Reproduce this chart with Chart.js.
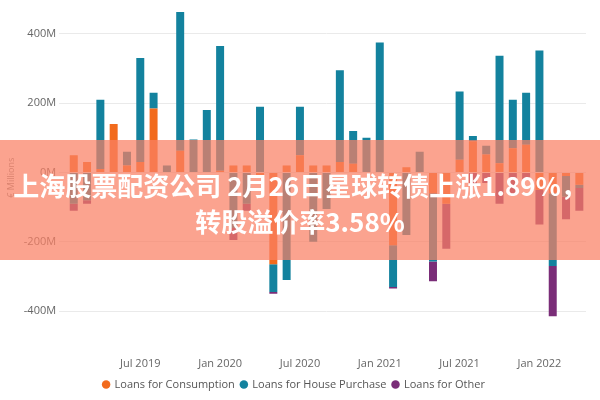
<!DOCTYPE html>
<html>
<head>
<meta charset="utf-8">
<script src="https://cdn.jsdelivr.net/npm/chart.js@4"></script>
<style>
  body { margin: 0; background: #fff; }
  #wrap { width: 600px; height: 400px; }
</style>
</head>
<body>
<div id="wrap"><canvas id="c" width="600" height="400"></canvas></div>
<script>
// months Feb 2019 .. Apr 2022
const months = [
  'Feb 2019','Mar 2019','Apr 2019','May 2019','Jun 2019','Jul 2019','Aug 2019','Sep 2019','Oct 2019','Nov 2019','Dec 2019',
  'Jan 2020','Feb 2020','Mar 2020','Apr 2020','May 2020','Jun 2020','Jul 2020','Aug 2020','Sep 2020','Oct 2020','Nov 2020','Dec 2020',
  'Jan 2021','Feb 2021','Mar 2021','Apr 2021','May 2021','Jun 2021','Jul 2021','Aug 2021','Sep 2021','Oct 2021','Nov 2021','Dec 2021',
  'Jan 2022','Feb 2022','Mar 2022','Apr 2022'
];
// values in millions
const consumption = [50, 30, 10, 140, 20, 30, 185, 0, 63, 0, 0, 5, 20, 20, -10, -265, 20, 50, 20, 20, 30, 25, 0,
  0, -210, 15, 0, -60, -90, 37, 90, 52, 27, 70, 80, -50, -60, -10, -35];
const housePurchase = [-90, -80, 200, 0, 40, 300, 45, 20, 400, 95, 180, 360, -160, -90, 190, -80, -310, 140, -200, -105, 265, 95, 100,
  375, -120, -180, 60, -197, 0, 197, 15, 25, 310, 140, 150, 352, -210, -60, -10];
const other = [-20, -10, 0, 0, 0, 0, 0, 0, 0, 0, 0, 0, -35, -20, 0, -5, 0, 0, 0, 0, 0, 0, 0,
  0, -5, 0, 0, -57, -130, 0, -37, -30, -90, -65, -20, -100, -145, -65, -65];
const yTicks = [400, 200, 0, -200, -400];

const banner = {
  id: 'banner',
  afterDraw(chart) {
    const ctx = chart.ctx;
    ctx.save();
    ctx.fillStyle = 'rgba(250,128,100,0.72)';
    ctx.fillRect(0, 140, 600, 120);
    ctx.fillStyle = '#fff';
    ctx.font = 'bold 26px "Noto Sans CJK SC"';
    ctx.textAlign = 'center';
    ctx.textBaseline = 'middle';
    ctx.fillText('上海股票配资公司 2月26日星球转债上涨1.89%，', 300, 186);
    ctx.fillText('转股溢价率3.58%', 300, 222);
    ctx.restore();
  }
};

new Chart(document.getElementById('c'), {
  type: 'bar',
  data: {
    labels: months,
    datasets: [
      { label: 'Loans for Consumption', data: consumption, backgroundColor: '#F26B1D' },
      { label: 'Loans for House Purchase', data: housePurchase, backgroundColor: '#13829E' },
      { label: 'Loans for Other', data: other, backgroundColor: '#7A2D78' }
    ]
  },
  options: {
    responsive: false,
    animation: false,
    layout: { padding: { top: 2, right: 14, left: 2 } },
    datasets: { bar: { barPercentage: 0.6, categoryPercentage: 1 } },
    plugins: {
      legend: {
        position: 'bottom',
        labels: { usePointStyle: true, pointStyle: 'circle', boxWidth: 6, boxHeight: 6, padding: 6,
          color: '#555', font: { family: 'Open Sans', size: 11 } }
      },
      tooltip: { enabled: false }
    },
    scales: {
      x: {
        stacked: true,
        grid: { display: false },
        border: { display: false },
        ticks: {
          autoSkip: false, maxRotation: 0, color: '#666', font: { family: 'Open Sans', size: 11 },
          callback: function (v, i) {
            const m = months[i];
            return (m.startsWith('Jan') || m.startsWith('Jul')) ? m : '';
          }
        }
      },
      y: {
        stacked: true,
        min: -500, max: 470,
        afterBuildTicks: s => { s.ticks = yTicks.map(v => ({ value: v })); },
        grid: { color: '#eaeaea' },
        border: { display: false },
        title: { display: true, text: '€ Millions', color: '#888', font: { family: 'Open Sans', size: 9 } },
        ticks: { color: '#666', font: { family: 'Open Sans', size: 11 }, callback: v => v + 'M' }
      }
    }
  },
  plugins: [banner]
});
</script>
</body>
</html>
